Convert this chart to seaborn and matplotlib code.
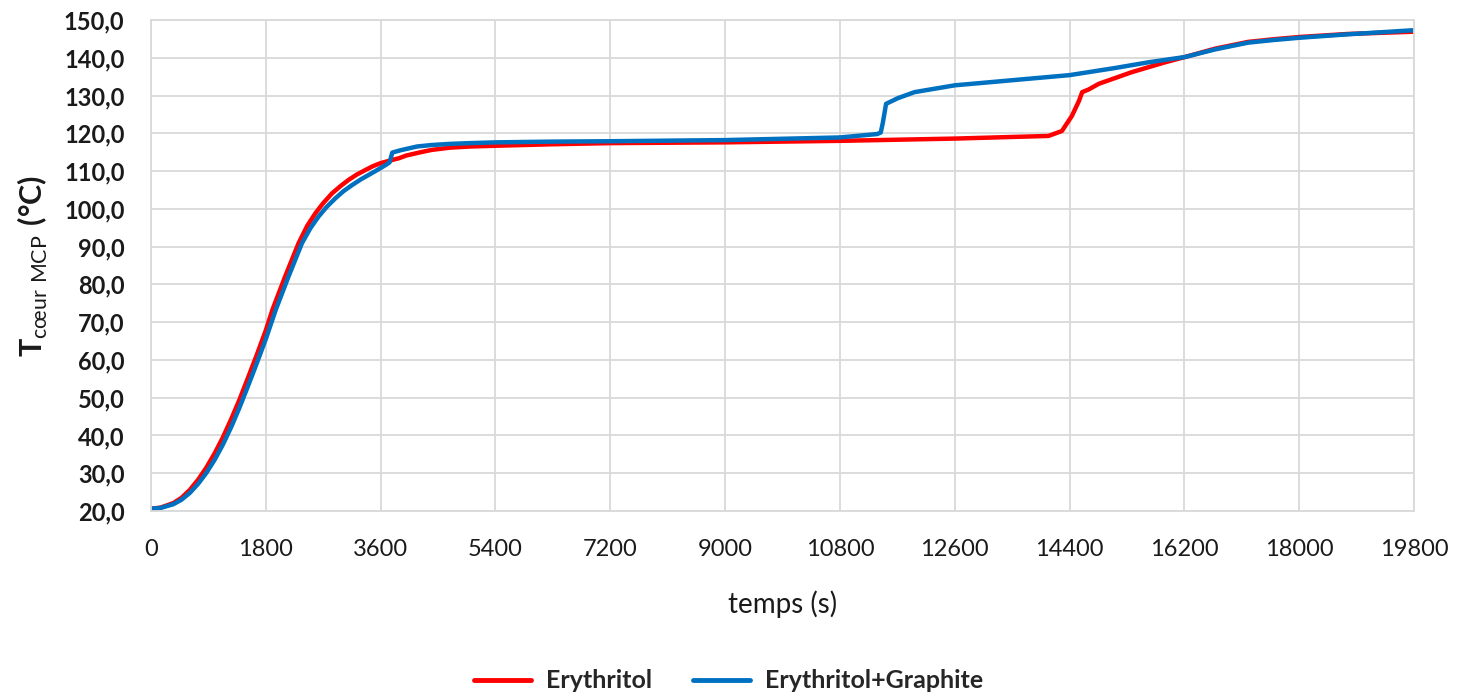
import pandas as pd
import numpy as np
import matplotlib
matplotlib.use("Agg")
import matplotlib.pyplot as plt
import seaborn as sns
from matplotlib.ticker import FuncFormatter, MultipleLocator

# values
ery_t = [0, 150, 352, 480, 610, 740, 869, 1000, 1128, 1260, 1386, 1515, 1645, 1800,
         1905, 2104, 2314, 2450, 2577, 2700, 2839, 2970, 3101, 3230, 3364, 3480,
         3600, 3750, 3889, 4000, 4204, 4400, 4689, 5000, 5400, 6300, 7200, 9000,
         10800, 12600, 14070, 14280, 14437, 14546, 14598, 14700, 14858, 15378,
         15898, 16210, 16679, 17199, 17600, 18006, 18760, 19800]
ery_T = [20.6, 20.9, 22.1, 23.5, 25.6, 28.3, 31.5, 35.3, 39.5, 44.4, 49.4, 55.0,
         60.7, 67.8, 73.3, 82.1, 90.9, 95.5, 98.8, 101.5, 104.1, 106.0, 107.7,
         109.1, 110.3, 111.3, 112.1, 112.8, 113.4, 114.1, 114.9, 115.6, 116.2,
         116.5, 116.7, 117.1, 117.4, 117.6, 118.0, 118.6, 119.3, 120.6, 124.6,
         128.5, 130.9, 131.6, 133.1, 136.2, 138.8, 140.2, 142.4, 144.2, 144.9,
         145.5, 146.3, 146.9]

graph_t = [0, 150, 352, 480, 610, 740, 869, 1000, 1128, 1260, 1386, 1515, 1645,
           1800, 1957, 2157, 2367, 2500, 2629, 2760, 2892, 3020, 3154, 3290, 3416,
           3550, 3679, 3740, 3784, 3910, 4170, 4400, 4689, 5000, 5400, 6300, 7200,
           9000, 10800, 11384, 11440, 11472, 11524, 11708, 11970, 12600, 14400,
           15118, 15638, 16210, 16679, 17199, 17600, 18006, 18760, 19800]
graph_T = [20.6, 20.8, 21.8, 23.0, 24.8, 27.2, 30.1, 33.6, 37.6, 42.3, 47.3, 52.8,
           58.5, 65.5, 73.3, 82.1, 90.9, 94.9, 98.0, 100.6, 102.8, 104.7, 106.3,
           107.8, 109.0, 110.3, 111.6, 112.3, 114.9, 115.5, 116.5, 116.9, 117.2,
           117.4, 117.6, 117.8, 117.9, 118.2, 118.9, 119.8, 120.2, 122.7, 127.8,
           129.3, 130.9, 132.7, 135.4, 137.3, 138.8, 140.2, 142.2, 144.0, 144.7,
           145.3, 146.2, 147.3]

series_names = ["Erythritol", "Erythritol+Graphite"]
colors = {"Erythritol": "#ff0000", "Erythritol+Graphite": "#0070c0"}

df = pd.concat([
    pd.DataFrame({"t": ery_t, "T": ery_T, "serie": series_names[0]}),
    pd.DataFrame({"t": graph_t, "T": graph_T, "serie": series_names[1]}),
], ignore_index=True)

sns.set_style("white")
plt.rcParams['font.family'] = ['Lato', 'DejaVu Sans']
plt.rcParams['mathtext.fontset'] = 'custom'
plt.rcParams['mathtext.rm'] = 'Lato'
plt.rcParams['mathtext.bf'] = 'Lato:bold'

fig = plt.figure(figsize=(14.57, 6.94), dpi=100)
ax = fig.add_axes([0.1036, 0.2637, 0.8669, 0.7075])

sns.lineplot(data=df, x="t", y="T", hue="serie", palette=colors, hue_order=series_names,
             estimator=None, sort=False, linewidth=3.2, ax=ax, legend=False,
             solid_joinstyle="round", solid_capstyle="round")

ax.set_xlim(0, 19800)
ax.set_ylim(20, 150)
ax.xaxis.set_major_locator(MultipleLocator(1800))
ax.yaxis.set_major_locator(MultipleLocator(10))
ax.yaxis.set_major_formatter(FuncFormatter(lambda v, p: f"{v:.1f}".replace(".", ",")))
ax.grid(True, color="#d9d9d9", linewidth=1.3)
ax.set_axisbelow(True)
for s in ax.spines.values():
    s.set_color("#d9d9d9")
    s.set_linewidth(1.3)

ax.tick_params(axis="x", length=0, pad=20, labelsize=17, labelcolor="#1a1a1a")
ax.tick_params(axis="y", length=0, pad=19, labelsize=17, labelcolor="#1a1a1a")
for lab in ax.get_yticklabels():
    lab.set_fontweight("bold")

ax.set_xlabel("temps (s)", fontsize=20, labelpad=22, color="#1a1a1a")
ax.set_ylabel(r"$\mathbf{T}_{\mathrm{cœur\ MCP}}\ \mathbf{(°C)}$", fontsize=22,
              labelpad=10, color="#1a1a1a")

handles = [plt.Line2D([], [], color=colors[n], linewidth=3.5) for n in series_names]
fig.legend(handles, series_names, loc="center", bbox_to_anchor=(0.5, 0.019), ncol=2,
           frameon=False, handlelength=2.3, handletextpad=0.6, columnspacing=1.6,
           prop={"weight": "bold", "size": 18})

fig.savefig("out.png", dpi=100)
